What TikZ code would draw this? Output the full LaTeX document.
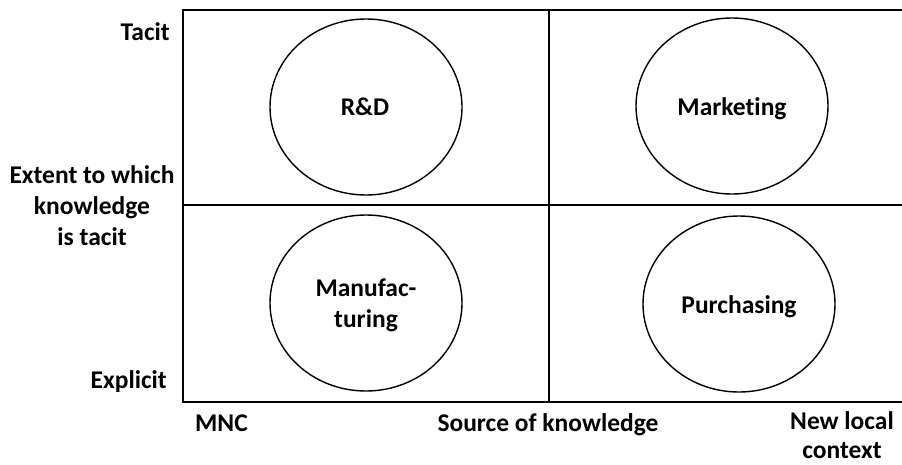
\documentclass[tikz,border=0pt]{standalone}
\usepackage{fontspec}
\setmainfont{Carlito}[RawFeature=-liga]
\usetikzlibrary{shapes.geometric}
\tikzset{
	unit/.style={draw, ellipse, line width=1.4pt, minimum width=192pt, minimum height=176pt, inner sep=0pt},
	lbl/.style={font=\fontsize{25.5}{31}\selectfont\bfseries, align=center, inner sep=0pt, anchor=base},
	frame/.style={line width=2.4pt},
	split/.style={line width=1.8pt}
}

\begin{document}
\begin{tikzpicture}[x=1pt, y=-1pt]
			%%%%% START %%%%%
			\useasboundingbox (0, 0) rectangle (902, 464);
			
			\draw[frame] (903, 10) -- (183, 10) -- (183, 402) -- (903, 402);
			\draw[split] (183, 205) -- (903, 205);
			\draw[split] (549, 10) -- (549, 402);
			
			\node[unit] (rd) at (366, 107) {};
			\node[unit] (mkt) at (732, 106) {};
			\node[unit] (mfg) at (366, 303) {};
			\node[unit] (pur) at (739, 304) {};
			\node[lbl] (rdtext) at (365, 115) {R\&D};
			\node[lbl] (mkttext) at (732, 115) {Marketing};
			\node[lbl] (mfgtext) at (366, 327) {Manufac-\\turing};
			\node[lbl] (purtext) at (739, 313) {Purchasing};
			
			% last line of a two or three line label sits on the given y
			\node[lbl, anchor=base east] (tacit) at (170, 40) {Tacit};
			\node[lbl] (extent) at (92, 245) {Extent to which\\knowledge\\is tacit};
			\node[lbl, anchor=base east] (explicit) at (167, 388) {Explicit};
			
			\node[lbl, anchor=base west] (mnc) at (195, 431) {MNC};
			\node[lbl] (source) at (548, 431) {Source of knowledge};
			\node[lbl, font=\fontsize{25.5}{29}\selectfont\bfseries] (local) at (842, 458) {New local\\context};
			
			%%%%% END %%%%%
\end{tikzpicture}
\end{document}
